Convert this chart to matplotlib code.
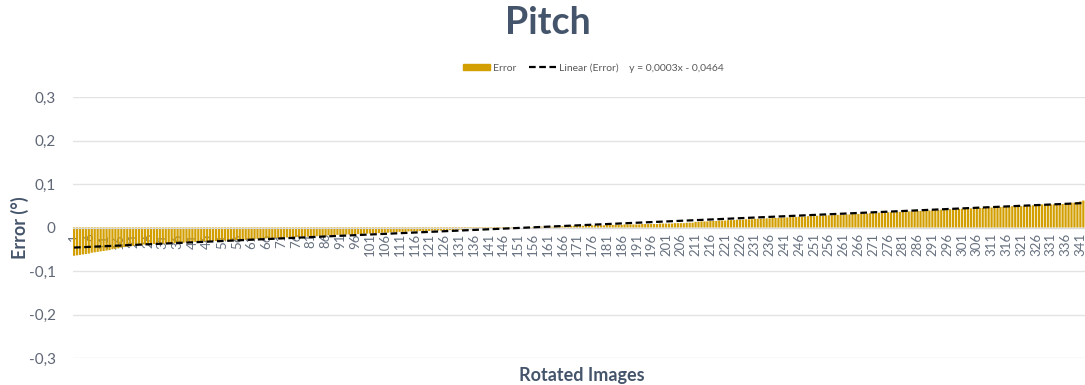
import numpy as np
import matplotlib.pyplot as plt
from matplotlib.lines import Line2D
from matplotlib.patches import Patch

# error per rotated image, in thousandths of a degree
err_milli = [
    -65, -64, -63, -62, -61, -60, -58, -57, -56, -55,
    -54, -53, -52, -50, -49, -48, -46, -45, -44, -43,
    -42, -41, -40, -40, -39, -39, -38, -38, -38, -37,
    -37, -37, -36, -36, -36, -35, -35, -35, -34, -34,
    -34, -33, -33, -33, -32, -32, -32, -31, -31, -31,
    -30, -30, -30, -29, -29, -29, -28, -28, -28, -27,
    -27, -27, -26, -26, -26, -25, -25, -25, -24, -24,
    -24, -23, -23, -23, -22, -22, -22, -21, -21, -21,
    -20, -20, -20, -19, -19, -19, -18, -18, -18, -17,
    -17, -17, -16, -16, -16, -15, -15, -15, -14, -14,
    -14, -13, -13, -13, -12, -12, -12, -11, -11, -11,
    -10, -10, -10, -9, -9, -9, -9, -8, -8, -8,
    -8, -7, -7, -7, -7, -6, -6, -6, -6, -5,
    -5, -5, -5, -4, -4, -4, -4, -3, -3, -3,
    -3, -2, -2, -2, -2, -1, -1, -1, -1, 0,
    0, 0, 0, 1, 1, 1, 1, 1, 2, 2,
    2, 2, 2, 3, 3, 3, 3, 3, 4, 4,
    4, 4, 4, 4, 5, 5, 5, 5, 5, 5,
    6, 6, 6, 6, 6, 6, 7, 7, 7, 7,
    7, 7, 8, 8, 8, 8, 8, 8, 9, 9,
    9, 9, 9, 10, 10, 10, 10, 11, 11, 11,
    13, 13, 14, 14, 14, 15, 15, 15, 16, 16,
    16, 17, 17, 17, 18, 18, 18, 19, 19, 19,
    20, 20, 20, 21, 21, 21, 22, 22, 22, 23,
    23, 23, 24, 24, 24, 25, 25, 25, 26, 26,
    26, 27, 27, 27, 28, 28, 28, 29, 29, 29,
    30, 30, 30, 31, 31, 31, 32, 32, 32, 33,
    33, 33, 34, 34, 34, 35, 35, 35, 36, 36,
    36, 37, 37, 37, 38, 38, 38, 39, 39, 39,
    40, 40, 40, 41, 41, 41, 42, 42, 42, 43,
    43, 43, 44, 44, 44, 45, 45, 45, 46, 46,
    46, 47, 47, 47, 48, 48, 48, 49, 49, 49,
    49, 50, 50, 50, 51, 51, 53, 53, 53, 53,
    53, 53, 53, 54, 54, 55, 56, 57, 57, 58,
    60, 62, 66,
]
errors = np.array(err_milli) / 1000.0
images = np.arange(1, len(errors) + 1)

# trendline as given in the chart legend
trend_slope = 0.0003
trend_intercept = -0.0464
trend_label = "y = 0,0003x - 0,0464"

y_ticks = [-0.3, -0.2, -0.1, 0, 0.1, 0.2, 0.3]

plt.rcParams['font.family'] = ['Lato', 'DejaVu Sans']
dark = '#44546A'
grey = '#595959'
gold = '#D29E00'

fig = plt.figure(figsize=(10.85, 3.85), dpi=100)
ax = fig.add_axes([72.5 / 1085, 1 - 358 / 385, 343 * 2.96 / 1085, (358 - 97) / 385])

bars = ax.bar(images, errors, width=0.75, color=gold, zorder=2)
for b in bars:
    b.set_snap(False)
trend = trend_slope * images + trend_intercept
ax.plot(images, trend, color='black', linestyle=(0, (3, 1.6)), linewidth=1.6, zorder=3)

# category axis sits at y = 0, labels hang below it
ax.spines['bottom'].set_position(('data', 0))
ax.spines['bottom'].set_color('#D9D9D9')
for s in ['top', 'right', 'left']:
    ax.spines[s].set_visible(False)

ax.set_xlim(0.5, len(errors) + 0.5)
ax.set_ylim(-0.3, 0.3)
ax.set_yticks(y_ticks)
ax.set_yticklabels([('%.1f' % v).replace('.', ',') if v != 0 else '0' for v in y_ticks])
ax.yaxis.grid(True, color='#E3E3E3', linewidth=1, zorder=0)
ax.set_axisbelow(True)

tick_pos = images[::5]
ax.set_xticks(tick_pos)
ax.set_xticklabels([str(i) for i in tick_pos], rotation=90, va='top', ha='center')
ax.tick_params(axis='x', length=0, pad=4, labelsize=9.5, labelcolor='#66707F')
ax.tick_params(axis='y', length=0, pad=12, labelsize=11, labelcolor='#5F6675')
for lbl in ax.get_xticklabels():
    lbl.set_zorder(4)

fig.text(0.505, 0.94, 'Pitch', ha='center', va='center', fontsize=27,
         fontweight='bold', color=dark)
fig.text(0.018, 1 - 228 / 385, 'Error (°)', rotation=90, ha='center', va='center',
         fontsize=13, fontweight='bold', color=dark)
fig.text(0.536, 1 - 375 / 385, 'Rotated Images', ha='center', va='center',
         fontsize=13, fontweight='bold', color=dark)

handles = [Patch(color=gold), Line2D([], [], color='black', linestyle=(0, (3, 1.6)), linewidth=1.6)]
leg = fig.legend(handles, ['Error', 'Linear (Error)    ' + trend_label],
                 loc='center', bbox_to_anchor=(0.547, 1 - 68 / 385), ncol=2, frameon=False,
                 fontsize=7.5, handlelength=2.6, handleheight=0.6, columnspacing=1.2,
                 handletextpad=0.3)
for t in leg.get_texts():
    t.set_color(grey)

fig.savefig('out.png', dpi=100)
